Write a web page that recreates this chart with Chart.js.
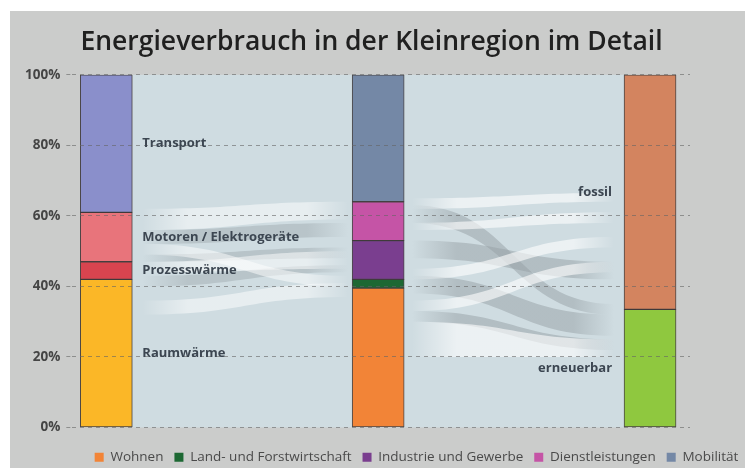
<!DOCTYPE html>
<html>
<head>
<meta charset="utf-8">
<script src="https://cdn.jsdelivr.net/npm/chart.js@4"></script>
<style>
html, body { margin: 0; padding: 0; background: #fff; }
#wrap { position: absolute; left: 10px; top: 11px; width: 735px; height: 457px; background: #cbcccb; }
</style>
</head>
<body>
<div id="wrap"><canvas id="energy" width="735" height="457"></canvas></div>
<script>
// Verwendung (Spalte 1)
var useLabels = ["Raumwärme", "Prozesswärme", "Motoren / Elektrogeräte", "Transport"];
var useValues = [42, 5, 14, 39];

// Sektoren (Spalte 2)
var sectorLabels = ["Wohnen", "Land- und Forstwirtschaft", "Industrie und Gewerbe", "Dienstleistungen", "Mobilität"];
var sectorValues = [39.5, 2.5, 11, 11, 36];

// Energiequelle (Spalte 3)
var sourceLabels = ["erneuerbar", "fossil"];
var sourceValues = [33.5, 66.5];

var yTicks = [0, 20, 40, 60, 80, 100];

// Flüsse in % : [von unten, von oben, nach unten, nach oben]
var flowsLeftLight = [[56, 62, 59, 64], [44, 47, 45, 50], [32, 36, 37, 41], [49, 52, 40, 43]];
var flowsLeftDark = [[52, 56, 54, 58], [47, 49, 48, 51], [40, 43, 44, 46]];
var flowsRightLight = [[62, 65, 64, 66.5], [56, 58, 58, 61], [42, 45, 51, 54], [33, 36, 44, 47], [20, 30, 20, 25]];
var flowsRightDark = [[58, 63, 32, 35], [48, 53, 42, 47], [38, 43, 26, 32], [30, 33, 22, 25]];

var useColors = ["#fbb727", "#d8444f", "#e8747b", "#8a8fcb"];
var sectorColors = ["#f28437", "#1d6833", "#7a3e8f", "#c554a6", "#7488a6"];
var sourceColors = ["#8fc83f", "#d3845f"];
var panelColor = "#cfdce1";

function column(v, i) {
  var d = [null, null, null];
  d[i] = v;
  return d;
}

var datasets = [];
useLabels.forEach(function (l, i) {
  datasets.push({ label: l, data: column(useValues[i], 0), backgroundColor: useColors[i] });
});
sectorLabels.forEach(function (l, i) {
  datasets.push({ label: l, data: column(sectorValues[i], 1), backgroundColor: sectorColors[i] });
});
sourceLabels.forEach(function (l, i) {
  datasets.push({ label: l, data: column(sourceValues[i], 2), backgroundColor: sourceColors[i] });
});

function ribbon(ctx, x0, x1, top0, bot0, top1, bot1, rgb, alpha) {
  var g = ctx.createLinearGradient(x0, 0, x1, 0);
  g.addColorStop(0, "rgba(" + rgb + ",0)");
  g.addColorStop(0.22, "rgba(" + rgb + "," + alpha + ")");
  g.addColorStop(0.8, "rgba(" + rgb + "," + alpha + ")");
  g.addColorStop(1, "rgba(" + rgb + ",0)");
  var mx = (x0 + x1) / 2;
  ctx.beginPath();
  ctx.moveTo(x0, top0);
  ctx.bezierCurveTo(mx, top0, mx, top1, x1, top1);
  ctx.lineTo(x1, bot1);
  ctx.bezierCurveTo(mx, bot1, mx, bot0, x0, bot0);
  ctx.closePath();
  ctx.fillStyle = g;
  ctx.fill();
}

var flowPlugin = {
  id: "flows",
  afterLayout: function (chart) {
    // Titel und Legende wie im Original nach rechts/unten versetzt
    chart.titleBlock.left += 17;
    chart.titleBlock.right += 17;
    chart.legend.left += 62;
    chart.legend.right += 62;
    chart.legend.top += 12;
    chart.legend.bottom += 12;
  },
  beforeDatasetsDraw: function (chart) {
    var ctx = chart.ctx, y = chart.scales.y, area = chart.chartArea;
    var b1 = chart.getDatasetMeta(0).data[0];
    var b2 = chart.getDatasetMeta(4).data[1];
    var b3 = chart.getDatasetMeta(9).data[2];
    var r1 = b1.x + b1.width / 2, l2 = b2.x - b2.width / 2;
    var r2 = b2.x + b2.width / 2, l3 = b3.x - b3.width / 2;
    ctx.save();
    ctx.fillStyle = panelColor;
    ctx.fillRect(r1, area.top, l3 - r1, area.bottom - area.top);
    function draw(list, xa, xb, rgb, alpha) {
      list.forEach(function (f) {
        ribbon(ctx, xa, xb, y.getPixelForValue(f[1]), y.getPixelForValue(f[0]),
          y.getPixelForValue(f[3]), y.getPixelForValue(f[2]), rgb, alpha);
      });
    }
    draw(flowsLeftDark, r1 + 10, l2 - 4, "150,160,165", 0.4);
    draw(flowsLeftLight, r1 + 10, l2 - 4, "255,255,255", 0.5);
    draw(flowsRightDark, r2 + 8, l3 - 10, "150,160,165", 0.5);
    draw(flowsRightLight, r2 + 8, l3 - 10, "255,255,255", 0.6);
    ctx.restore();
  }
};

var labelPlugin = {
  id: "segmentLabels",
  afterDraw: function (chart) {
    var ctx = chart.ctx;
    ctx.save();
    ctx.font = "bold 13px 'Open Sans'";
    ctx.textBaseline = "middle";
    ctx.fillStyle = "#3c4651";
    useLabels.forEach(function (l, i) {
      var el = chart.getDatasetMeta(i).data[0];
      ctx.textAlign = "left";
      ctx.fillText(l, el.x + el.width / 2 + 10, (el.y + el.base) / 2);
    });
    sourceLabels.forEach(function (l, i) {
      var el = chart.getDatasetMeta(useLabels.length + sectorLabels.length + i).data[2];
      ctx.textAlign = "right";
      ctx.fillText(l, el.x - el.width / 2 - 12, (el.y + el.base) / 2);
    });
    ctx.restore();
  }
};

new Chart("energy", {
  type: "bar",
  data: { labels: [0, 1, 2], datasets: datasets },
  plugins: [flowPlugin, labelPlugin],
  options: {
    responsive: false,
    animation: false,
    layout: { padding: { top: 4, left: 9, right: 55, bottom: 6 } },
    datasets: {
      bar: { barThickness: 52, borderWidth: 1, borderColor: "rgba(50,45,45,0.85)", borderSkipped: false }
    },
    scales: {
      x: { type: "linear", stacked: true, display: false, offset: false, min: -0.125, max: 2.147 },
      y: {
        stacked: true, min: 0, max: 100,
        afterBuildTicks: function (axis) { axis.ticks = yTicks.map(function (v) { return { value: v }; }); },
        border: { display: false, dash: [4, 4] },
        grid: { z: 1, color: "rgba(100,100,100,0.6)", tickLength: 6, tickBorderDash: [4, 4], lineWidth: 1 },
        ticks: {
          color: "#454545", padding: 6,
          font: { family: "'Open Sans'", size: 13.5, weight: "bold" },
          callback: function (v) { return v + "%"; }
        }
      }
    },
    plugins: {
      title: {
        display: true,
        text: "Energieverbrauch in der Kleinregion im Detail",
        color: "#202020",
        font: { family: "'Open Sans'", size: 26.5, weight: "600" },
        padding: { top: 12, bottom: 16 }
      },
      legend: {
        position: "bottom",
        labels: {
          color: "#4a4a4a", boxWidth: 9, boxHeight: 9, padding: 11,
          font: { family: "'Open Sans'", size: 13.5 },
          generateLabels: function (chart) {
            return Chart.defaults.plugins.legend.labels.generateLabels(chart).filter(function (it) {
              return sectorLabels.indexOf(it.text) >= 0;
            }).map(function (it) {
              it.lineWidth = 0;
              it.strokeStyle = it.fillStyle;
              return it;
            });
          }
        }
      },
      tooltip: { enabled: false }
    }
  }
});
</script>
</body>
</html>
